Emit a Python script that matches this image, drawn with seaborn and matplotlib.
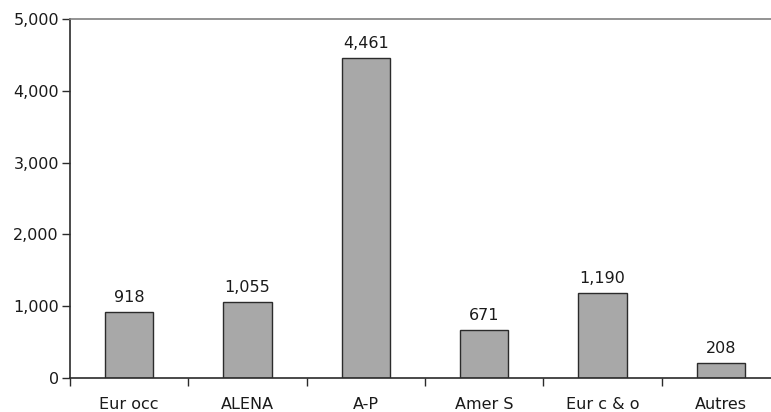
import matplotlib
matplotlib.use("Agg")
import matplotlib.pyplot as plt
import seaborn as sns
import pandas as pd
from matplotlib.ticker import FixedLocator, FuncFormatter

regions = ["Eur occ", "ALENA", "A-P", "Amer S", "Eur c & o", "Autres"]
values = [918, 1055, 4461, 671, 1190, 208]
y_ticks = [0, 1000, 2000, 3000, 4000, 5000]

sns.set_style("white")
plt.rcParams["font.family"] = ["DejaVu Sans"]

df = pd.DataFrame({"region": regions, "value": values})

fig = plt.figure(figsize=(7.71, 4.12), dpi=100)
ax = fig.add_axes([70 / 771, 34 / 412, 710 / 771, (378 - 19) / 412])

sns.barplot(data=df, x="region", y="value", ax=ax, color="#a8a8a8",
            saturation=1, width=0.41, edgecolor="#2b2b2b", linewidth=1.0)

ax.set_xlim(-0.5, len(regions) - 0.5)
ax.set_ylim(0, 5000)
ax.set_xlabel("")
ax.set_ylabel("")

# value labels above each bar
for i, v in enumerate(values):
    ax.annotate(f"{v:,}", (i, v), xytext=(0, 5), textcoords="offset points",
                ha="center", va="bottom", fontsize=11.5, color="#1a1a1a")

ax.yaxis.set_major_locator(FixedLocator(y_ticks))
ax.yaxis.set_major_formatter(FuncFormatter(lambda v, p: f"{int(v):,}"))
ax.tick_params(axis="y", which="major", direction="out", length=6, width=1,
               color="#2b2b2b", labelsize=11.5, labelcolor="#1a1a1a", pad=2,
               left=True)

# category labels at bar centres, tick marks at category boundaries
ax.xaxis.set_minor_locator(FixedLocator([i - 0.5 for i in range(len(regions) + 1)]))
ax.tick_params(axis="x", which="major", length=0, labelsize=11.5,
               labelcolor="#1a1a1a", pad=14)
ax.tick_params(axis="x", which="minor", direction="out", length=6, width=1,
               color="#2b2b2b", bottom=True)

for side in ["left", "bottom"]:
    ax.spines[side].set_color("#2b2b2b")
    ax.spines[side].set_linewidth(1.2)
ax.spines["top"].set_color("#808080")
ax.spines["top"].set_linewidth(1.2)
ax.spines["right"].set_visible(False)

fig.savefig("out.png", dpi=100)
